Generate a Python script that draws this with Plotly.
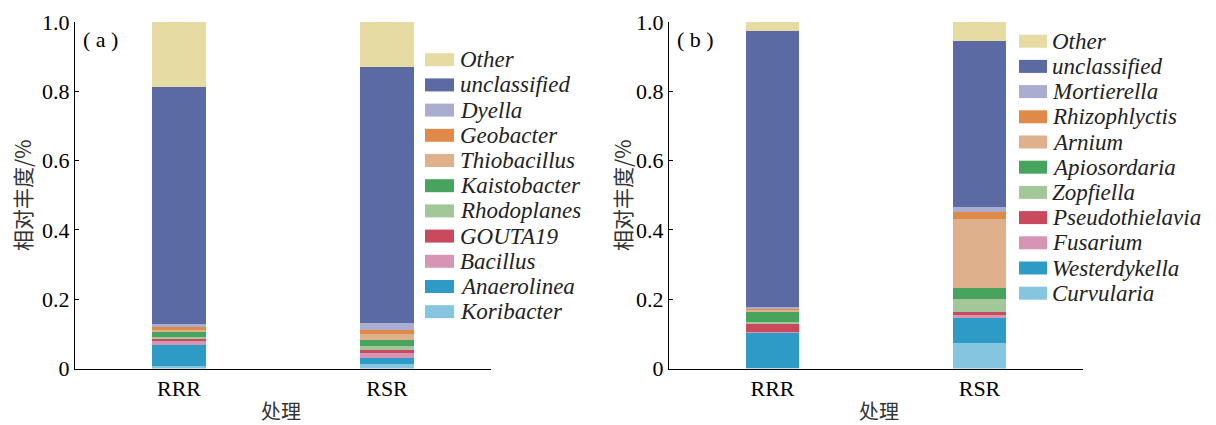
import plotly.graph_objects as go

# page body has an 8px margin; figure sized to reach the window's edges
W, H = 1208, 417
OFF = 8

def X(px):
    return (px - OFF) / W

def Y(py):
    return 1 - (py - OFF) / H

groups = ["RRR", "RSR"]

# Panel (a): bacteria, legend order (top -> bottom)
bac_names = ["Other", "unclassified", "Dyella", "Geobacter", "Thiobacillus",
             "Kaistobacter", "Rhodoplanes", "GOUTA19", "Bacillus",
             "Anaerolinea", "Koribacter"]
bac_rrr = [0.189, 0.686, 0.007, 0.008, 0.008, 0.012, 0.008, 0.006, 0.009, 0.062, 0.007]
bac_rsr = [0.129, 0.739, 0.021, 0.0115, 0.017, 0.0165, 0.0125, 0.0095, 0.013, 0.018, 0.0125]

# Panel (b): fungi, legend order (top -> bottom)
fun_names = ["Other", "unclassified", "Mortierella", "Rhizophlyctis", "Arnium",
             "Apiosordaria", "Zopfiella", "Pseudothielavia", "Fusarium",
             "Westerdykella", "Curvularia"]
fun_rrr = [0.027, 0.7965, 0.004, 0.001, 0.008, 0.029, 0.0075, 0.021, 0.003, 0.101, 0.002]
fun_rsr = [0.056, 0.478, 0.0156, 0.019, 0.1995, 0.032, 0.036, 0.0095, 0.0095, 0.0705, 0.075]

colors = ["#e6dba3", "#5b6aa3", "#a9aed0", "#e08a4a", "#dfb08c", "#48a35e",
          "#a2c798", "#c84a5c", "#d795b4", "#2e9bc7", "#86c5df"]

yticks = [0, 0.2, 0.4, 0.6, 0.8, 1.0]
yticktext = ["0", "0.2", "0.4", "0.6", "0.8", "1.0"]

SERIF = "Liberation Serif"
CJK = "Noto Sans CJK SC"

fig = go.Figure()

def add_panel(names, v1, v2, xa, ya):
    for i in reversed(range(len(names))):
        fig.add_trace(go.Bar(
            x=groups, y=[v1[i], v2[i]], name=names[i],
            marker=dict(color=colors[i], line=dict(width=0)),
            width=0.255, xaxis=xa, yaxis=ya, showlegend=False,
        ))

add_panel(bac_names, bac_rrr, bac_rsr, "x", "y")
add_panel(fun_names, fun_rrr, fun_rsr, "x2", "y2")

axis_common = dict(showline=True, linecolor="black", linewidth=1.3,
                   showgrid=False, zeroline=False, mirror=False,
                   automargin=False)

xcommon = dict(axis_common, ticks="", range=[-0.5, 1.5],
               tickfont=dict(family=SERIF, size=22, color="black"))
ycommon = dict(axis_common, range=[0, 1], tickvals=yticks, ticktext=yticktext,
               ticks="inside", ticklen=4, tickcolor="black",
               tickfont=dict(family=SERIF, size=22, color="black"))

fig.update_layout(
    width=W, height=H, barmode="stack", bargap=0,
    paper_bgcolor="white", plot_bgcolor="white",
    margin=dict(l=0, r=0, t=0, b=0, autoexpand=False),
    xaxis=dict(xcommon, domain=[X(75), X(491)], anchor="y"),
    yaxis=dict(ycommon, domain=[Y(368.5), Y(22)], anchor="x"),
    xaxis2=dict(xcommon, domain=[X(669), X(1083)], anchor="y2"),
    yaxis2=dict(ycommon, domain=[Y(368.5), Y(22)], anchor="x2"),
)

shapes = []
annotations = []

def add_legend(names, sw_x0, sw_x1, txt_x, y_first):
    for i, nm in enumerate(names):
        yc = y_first + i * 25.2
        shapes.append(dict(type="rect", xref="paper", yref="paper",
                           x0=X(sw_x0), x1=X(sw_x1),
                           y0=Y(yc + 6.5), y1=Y(yc - 6.5),
                           fillcolor=colors[i], line=dict(width=0)))
        annotations.append(dict(xref="paper", yref="paper", x=X(txt_x),
                                y=Y(yc), xanchor="left", yanchor="middle",
                                text="<i>" + nm + "</i>", showarrow=False,
                                font=dict(family=SERIF, size=23, color="#222")))

add_legend(bac_names, 425, 454, 458, 59.7)
add_legend(fun_names, 1019, 1047, 1050, 41.2)

# panel labels
for txt, xp in [("( a )", 81), ("( b )", 675)]:
    annotations.append(dict(xref="paper", yref="paper", x=X(xp), y=Y(40),
                            xanchor="left", yanchor="middle", text=txt,
                            showarrow=False,
                            font=dict(family=SERIF, size=22, color="black")))

# axis titles
for xc in [22, 622]:
    annotations.append(dict(xref="paper", yref="paper", x=X(xc), y=Y(195),
                            xanchor="center", yanchor="middle", text="相对丰度/%",
                            textangle=-90, showarrow=False,
                            font=dict(family=CJK, size=21, color="#333")))
for xc in [281, 879]:
    annotations.append(dict(xref="paper", yref="paper", x=X(xc), y=Y(410),
                            xanchor="center", yanchor="middle", text="处理",
                            showarrow=False,
                            font=dict(family=CJK, size=20, color="#333")))

fig.update_layout(shapes=shapes, annotations=annotations)

fig.write_html("out.html")
